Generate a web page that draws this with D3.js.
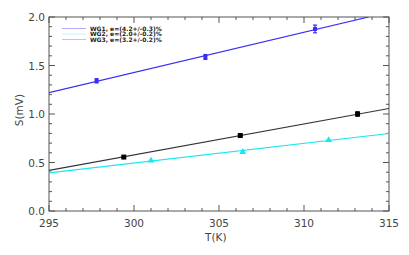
<!DOCTYPE html>
<html>
<head>
<meta charset="utf-8">
<script src="https://cdn.jsdelivr.net/npm/d3@7"></script>
<style>
  body { margin: 0; background: #fff; }
  text { font-family: "DejaVu Sans", Verdana, sans-serif; }
</style>
</head>
<body>
<div id="chart"></div>
<script>
// values
var series = ["WG1", "WG2", "WG3"];
var labels = ["WG1, e=(4.2+/-0.3)%", "WG2, e=(2.0+/-0.2)%", "WG3, e=(3.2+/-0.2)%"];
var colors = ["#3a2cf5", "#14e8f0", "#222222"];
var legendColors = ["#b0aaf8", "#bff7f8", "#c8c8c8"];

var wg1T = [297.8, 304.2, 310.65];
var wg1S = [1.342, 1.588, 1.877];
var wg1Err = [0.022, 0.025, 0.04];
var wg2T = [301.0, 306.4, 311.45];
var wg2S = [0.52, 0.608, 0.731];
var wg3T = [299.4, 306.25, 313.15];
var wg3S = [0.556, 0.778, 1.0];
var wg3Err = [0.01, 0.012, 0.022];

// fitted lines: [T0, S0, T1, S1]
var fit1 = [295, 1.22, 313.8, 2.0];
var fit2 = [295, 0.394, 315, 0.799];
var fit3 = [295, 0.418, 315, 1.057];

var xTicks = [295, 300, 305, 310, 315];
var yTicks = [0.0, 0.5, 1.0, 1.5, 2.0];

var width = 409, height = 255;
var margin = {top: 17, right: 20, bottom: 44, left: 49};

var svg = d3.select("#chart").append("svg")
    .attr("width", width)
    .attr("height", height);

var x = d3.scaleLinear().domain([295, 315]).range([margin.left, width - margin.right]);
var y = d3.scaleLinear().domain([0, 2]).range([height - margin.bottom, margin.top]);

var axisColor = "#555";
var labelColor = "#444";

svg.append("defs").append("clipPath").attr("id", "clip")
  .append("rect")
    .attr("x", x(295)).attr("y", y(2))
    .attr("width", x(315) - x(295)).attr("height", y(0) - y(2));

// frame
svg.append("rect")
    .attr("x", x(295)).attr("y", y(2))
    .attr("width", x(315) - x(295)).attr("height", y(0) - y(2))
    .attr("fill", "none").attr("stroke", axisColor).attr("stroke-width", 1);

// ticks on all four sides
var minorX = d3.range(295, 315.01, 1);
var minorY = d3.range(0, 2.001, 0.1);
var ticks = svg.append("g").attr("stroke", axisColor).attr("stroke-width", 1);
minorX.forEach(function(t) {
  var len = (Math.round(t) % 5 == 0) ? 6 : 3;
  ticks.append("line").attr("x1", x(t)).attr("x2", x(t)).attr("y1", y(0)).attr("y2", y(0) - len);
  ticks.append("line").attr("x1", x(t)).attr("x2", x(t)).attr("y1", y(2)).attr("y2", y(2) + len);
});
minorY.forEach(function(v) {
  var len = (Math.round(v * 10) % 5 == 0) ? 6 : 3;
  ticks.append("line").attr("y1", y(v)).attr("y2", y(v)).attr("x1", x(295)).attr("x2", x(295) + len);
  ticks.append("line").attr("y1", y(v)).attr("y2", y(v)).attr("x1", x(315)).attr("x2", x(315) - len);
});

// tick labels
svg.append("g").selectAll("text")
    .data(xTicks).enter().append("text")
    .attr("x", function(d) { return x(d); })
    .attr("y", y(0) + 16)
    .attr("text-anchor", "middle")
    .attr("font-size", 10.5)
    .attr("fill", labelColor)
    .text(function(d) { return d; });

svg.append("g").selectAll("text")
    .data(yTicks).enter().append("text")
    .attr("x", x(295) - 4)
    .attr("y", function(d) { return y(d) + 4; })
    .attr("text-anchor", "end")
    .attr("font-size", 10.5)
    .attr("fill", labelColor)
    .text(function(d) { return d3.format(".1f")(d); });

// axis titles
svg.append("text")
    .attr("x", 205).attr("y", 241)
    .attr("font-size", 10.5).attr("fill", labelColor)
    .text("T(K)");
svg.append("text")
    .attr("transform", "translate(23,110) rotate(-90)")
    .attr("text-anchor", "middle")
    .attr("font-size", 10.5).attr("fill", labelColor)
    .text("S(mV)");

// fit lines
var plot = svg.append("g").attr("clip-path", "url(#clip)");
[fit1, fit2, fit3].forEach(function(f, i) {
  plot.append("line")
      .attr("x1", x(f[0])).attr("y1", y(f[1]))
      .attr("x2", x(f[2])).attr("y2", y(f[3]))
      .attr("stroke", i == 2 ? "#333" : colors[i])
      .attr("stroke-width", 1.2);
});

// error bars
function errorBars(ts, ss, es, color) {
  ts.forEach(function(t, i) {
    var g = svg.append("g").attr("stroke", color).attr("stroke-width", 1.2);
    g.append("line").attr("x1", x(t)).attr("x2", x(t)).attr("y1", y(ss[i] - es[i])).attr("y2", y(ss[i] + es[i]));
    g.append("line").attr("x1", x(t) - 2).attr("x2", x(t) + 2).attr("y1", y(ss[i] - es[i])).attr("y2", y(ss[i] - es[i]));
    g.append("line").attr("x1", x(t) - 2).attr("x2", x(t) + 2).attr("y1", y(ss[i] + es[i])).attr("y2", y(ss[i] + es[i]));
  });
}
errorBars(wg1T, wg1S, wg1Err, colors[0]);
errorBars(wg3T, wg3S, wg3Err, "#000");

// markers
svg.append("g").selectAll("rect")
    .data(wg1T).enter().append("rect")
    .attr("x", function(d) { return x(d) - 2; })
    .attr("y", function(d, i) { return y(wg1S[i]) - 2; })
    .attr("width", 4).attr("height", 4)
    .attr("fill", colors[0]);

svg.append("g").selectAll("rect")
    .data(wg3T).enter().append("rect")
    .attr("x", function(d) { return x(d) - 2.5; })
    .attr("y", function(d, i) { return y(wg3S[i]) - 2.5; })
    .attr("width", 5).attr("height", 5)
    .attr("fill", "#000");

var tri = d3.symbol().type(d3.symbolTriangle).size(20);
svg.append("g").selectAll("path")
    .data(wg2T).enter().append("path")
    .attr("d", tri)
    .attr("transform", function(d, i) { return "translate(" + x(d) + "," + y(wg2S[i]) + ")"; })
    .attr("fill", colors[1]);

// legend
var legend = svg.append("g");
series.forEach(function(s, i) {
  var ly = 28.5 + i * 5.5;
  legend.append("line")
      .attr("x1", 62).attr("x2", 86)
      .attr("y1", ly).attr("y2", ly)
      .attr("stroke", legendColors[i]).attr("stroke-width", 1);
  legend.append("text")
      .attr("x", 90).attr("y", ly + 2.2)
      .attr("font-size", 6)
      .attr("font-weight", "bold")
      .attr("fill", "#222")
      .text(labels[i]);
});
</script>
</body>
</html>
